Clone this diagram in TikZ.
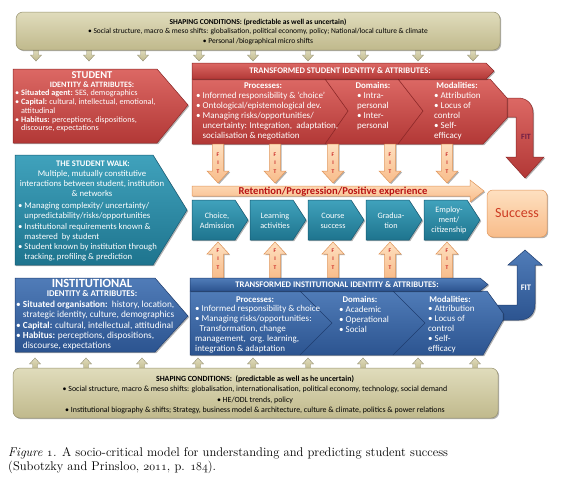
\documentclass[tikz,border=0pt]{standalone}
\usepackage{fontspec}
\newfontfamily\dfont{Carlito}
\usetikzlibrary{shadows}
\newcommand\fsz[2]{\fontsize{#1}{#2}\selectfont}
\newcommand\osn[1]{{\usefont{OML}{cmm}{m}{it}#1}}
\definecolor{redT}{RGB}{220,104,100}
\definecolor{redD}{RGB}{178,56,54}
\definecolor{redE}{RGB}{140,40,40}
\definecolor{tealT}{RGB}{64,162,188}
\definecolor{tealD}{RGB}{30,116,142}
\definecolor{tealE}{RGB}{22,90,115}
\definecolor{blueT}{RGB}{80,124,184}
\definecolor{blueD}{RGB}{44,84,144}
\definecolor{blueE}{RGB}{32,62,112}
\definecolor{tanT}{RGB}{224,220,188}
\definecolor{tanD}{RGB}{192,185,140}
\definecolor{tanE}{RGB}{150,145,110}
\definecolor{peachT}{RGB}{254,224,192}
\definecolor{peachD}{RGB}{248,188,138}
\definecolor{peachE}{RGB}{225,150,90}
\definecolor{fitred}{RGB}{200,30,30}
\definecolor{retred}{RGB}{185,20,20}
\definecolor{succred}{RGB}{205,60,35}
\definecolor{fitpurple}{RGB}{110,30,70}
\begin{document}
\begin{tikzpicture}[x=1pt,y=-1pt,
  shad/.style={drop shadow={shadow xshift=1.2pt,shadow yshift=-1.2pt,opacity=0.3,fill=black}},
  redbox/.style={shad,draw=redE,line width=0.5pt,top color=redT,bottom color=redD},
  tealbox/.style={shad,draw=tealE,line width=0.5pt,top color=tealT,bottom color=tealD},
  bluebox/.style={shad,draw=blueE,line width=0.5pt,top color=blueT,bottom color=blueD},
  tanbox/.style={shad,draw=tanE,line width=0.5pt,top color=tanT,bottom color=tanD},
  peachbox/.style={shad,draw=peachE,line width=0.5pt,top color=peachT,bottom color=peachD},
  tanarrow/.style={draw=tanE!80!gray,line width=0.4pt,top color=tanT,bottom color=tanD},
  divider/.style={line width=0.6pt},
  txt/.style={inner sep=0pt,text=black},
  wtxt/.style={inner sep=0pt,text=white},
  fitl/.style={inner sep=0pt,text=fitred,font=\dfont\bfseries\fsz{5.5}{5.5}},
  tandown/.pic={\path[tanarrow] (-2.5,0) -- (2.5,0) -- (2.5,5) -- (5.5,5) -- (0,11) -- (-5.5,5) -- (-2.5,5) -- cycle;},
  tanup/.pic={\path[tanarrow] (-2.5,0) -- (2.5,0) -- (2.5,-6) -- (5.5,-6) -- (0,-12) -- (-5.5,-6) -- (-2.5,-6) -- cycle;},
  fitdown/.pic={\path[peachbox] (-5.5,0) -- (5.5,0) -- (5.5,27) -- (11,27) -- (0,39) -- (-11,27) -- (-5.5,27) -- cycle;
     \node[fitl] (f) at (0,11) {F}; \node[fitl] (i) at (0,19) {I}; \node[fitl] (t) at (0,27.5) {T};},
  fitup/.pic={\path[peachbox] (-5.5,36) -- (5.5,36) -- (5.5,12) -- (11,12) -- (0,0) -- (-11,12) -- (-5.5,12) -- cycle;
     \node[fitl] (f) at (0,8.5) {F}; \node[fitl] (i) at (0,17) {I}; \node[fitl] (t) at (0,26) {T};}
]
\useasboundingbox (0,0) rectangle (562,482);
\fill[white] (0,0) rectangle (562,482);

% ---------- top shaping conditions ----------
\foreach \k/\x in {1/36,2/89,3/143,4/199,5/253,6/308,7/363,8/418,9/473}{
  \pic (td\k) at (\x,50) {tandown};
}
\path[tanbox,rounded corners=7pt] (16,12) rectangle (500,50);
\node[txt,align=center,font=\dfont\fsz{7.5}{9.5}] (topT) at (258,31.5)
 {\textbf{SHAPING CONDITIONS: (predictable as well as uncertain)}\\
  • Social structure, macro \& meso shifts: globalisation, political economy, policy; National/local culture \& climate\\
  • Personal /biographical micro shifts};

% ---------- student ----------
\path[redbox] (13,69) -- (157,69) -- (188,105) -- (157,143) -- (13,143) -- cycle;
\node[wtxt,font=\dfont\bfseries\fsz{10.5}{10.5}] (stH) at (92,75.5) {STUDENT};
\node[wtxt,font=\dfont\bfseries\fsz{8.2}{8.2}] (stH2) at (92,84.5) {IDENTITY \& ATTRIBUTES:};
\node[wtxt,align=left,anchor=west,font=\dfont\fsz{8.2}{8.8}] (stB) at (15,111)
 {• \textbf{Situated agent:} SES, demographics\\
  • \textbf{Capital:} cultural, intellectual, emotional,\\
  \phantom{• }attitudinal\\
  • \textbf{Habitus:} perceptions, dispositions,\\
  \phantom{• }discourse, expectations};

% ---------- transformed student ----------
\path[redbox] (488,98) -- (518,98) .. controls (527,98) and (533,104) .. (533,113) -- (533,157) -- (544,157) -- (525,178) -- (506,157) -- (516,157) -- (516,117) -- (488,117) -- cycle;
\node[inner sep=0pt,text=fitpurple,font=\dfont\bfseries\fsz{8}{8}] (fitS) at (526,137) {FIT};
\path[redbox] (192,79) -- (490,79) -- (507,98) -- (507,118) -- (483,144) -- (192,144) -- cycle;
\draw[divider,redE] (325,79) -- (348,111) -- (325,144);
\draw[divider,redE] (398,79) -- (423,111) -- (398,144);
\path[redbox] (192,63) -- (486,63) -- (494,71) -- (486,79) -- (192,79) -- cycle;
\node[wtxt,font=\dfont\bfseries\fsz{8.6}{8.6}] (tsH) at (340,71) {TRANSFORMED STUDENT IDENTITY \& ATTRIBUTES:};
\node[wtxt,font=\dfont\bfseries\fsz{8.8}{8.8}] (tsP) at (263,85.5) {Processes:};
\node[wtxt,align=left,anchor=west,font=\dfont\fsz{9}{10}] (tsPB) at (196,116.5)
 {• Informed responsibility \& ‘choice’\\
  • Ontological/epistemological dev.\\
  • Managing risks/opportunities/\\
  \phantom{• }uncertainty: Integration,\ \ adaptation,\\
  \phantom{• }socialisation \& negotiation};
\node[wtxt,font=\dfont\bfseries\fsz{8.8}{8.8}] (tsD) at (373,85.5) {Domains:};
\node[wtxt,align=left,anchor=west,font=\dfont\fsz{9}{10}] (tsDB) at (357,111.5)
 {• Intra-\\personal\\• Inter-\\personal};
\node[wtxt,font=\dfont\bfseries\fsz{8.8}{8.8}] (tsM) at (457,85.5) {Modalities:};
\node[wtxt,align=left,anchor=west,font=\dfont\fsz{9}{10}] (tsMB) at (434,116.5)
 {• Attribution\\• Locus of\\control\\• Self-\\efficacy};

% ---------- FIT arrows ----------
\foreach \k/\x in {1/218,2/275,3/333,4/390,5/447}{
  \pic (fd\k) at (\x,144) {fitdown};
  \pic (fu\k) at (\x,242) {fitup};
}

% ---------- student walk ----------
\path[tealbox] (15,155) -- (153,155) -- (187,210) -- (153,265) -- (15,265) -- cycle;
\node[wtxt,font=\dfont\bfseries\fsz{8.5}{8.5}] (wkH) at (93,163.5) {THE STUDENT WALK:};
\node[wtxt,align=center,font=\dfont\fsz{8.7}{9.7}] (wkP) at (92,183.5)
 {Multiple, mutually constitutive\\interactions between student, institution\\\& networks};
\node[wtxt,align=left,anchor=west,font=\dfont\fsz{8.7}{10.2}] (wkB) at (18,232)
 {• Managing complexity/ uncertainty/\\
  \phantom{• }unpredictability/risks/opportunities\\
  • Institutional requirements known \&\\
  \phantom{• }mastered\ \ by student\\
  • Student known by institution through\\
  \phantom{• }tracking, profiling \& prediction};

% ---------- retention bar and steps ----------
\path[peachbox] (192,186) -- (470,186) -- (470,180) -- (484,191) -- (470,202) -- (470,196) -- (192,196) -- cycle;
\node[inner sep=0pt,text=retred,font=\dfont\bfseries\fsz{10.6}{10.6}] (ret) at (333,191.5) {Retention/Progression/Positive experience};
\foreach \k/\x/\t in {1/192/{Choice,\\Admission},2/250/{Learning\\activities},3/308/{Course\\success},4/366/{Gradua-\\tion},5/424/{Employ-\\ment/\\citizenship}}{
  \path[tealbox] (\x,200) -- ({\x+43},200) -- ({\x+56},220) -- ({\x+43},240) -- (\x,240) -- cycle;
  \node[wtxt,align=center,font=\dfont\fsz{8.2}{10}] (c\k) at ({\x+25},220.5) {\t};
}
\node[peachbox,rounded corners=6pt,minimum width=60pt,minimum height=47pt,text=succred,font=\dfont\fsz{14}{14}] (succ) at (517,213.5) {Success};

% ---------- institutional ----------
\path[bluebox] (15,278) -- (155,278) -- (188,316) -- (155,352) -- (15,352) -- cycle;
\node[wtxt,font=\dfont\bfseries\fsz{12.5}{12.5}] (inH) at (92,283.5) {INSTITUTIONAL};
\node[wtxt,font=\dfont\bfseries\fsz{8.8}{8.8}] (inH2) at (92,293.5) {IDENTITY \& ATTRIBUTES:};
\node[wtxt,align=left,anchor=west,font=\dfont\fsz{9.3}{10.4}] (inB) at (16,325.5)
 {• \textbf{Situated organisation:}\ \ history, location,\\
  \phantom{• }strategic identity, culture, demographics\\
  • \textbf{Capital:} cultural, intellectual, attitudinal\\
  • \textbf{Habitus:} perceptions, dispositions,\\
  \phantom{• }discourse, expectations};

% ---------- transformed institutional ----------
\path[bluebox] (490,305) -- (517,305) -- (517,265) -- (508,265) -- (525,250) -- (542,265) -- (535,265) -- (535,304) .. controls (535,314) and (529,320) .. (519,320) -- (490,320) -- cycle;
\node[wtxt,font=\dfont\bfseries\fsz{8.5}{8.5}] (fitI) at (526,288) {FIT};
\path[bluebox] (190,291) -- (487,291) -- (503,313) -- (503,320) -- (483,355) -- (190,355) -- cycle;
\draw[divider,blueE] (300,291) -- (332,323) -- (300,355);
\draw[divider,blueE] (393,291) -- (425,323) -- (393,355);
\path[bluebox] (190,278) -- (480,278) -- (488,284.5) -- (480,291) -- (190,291) -- cycle;
\node[wtxt,font=\dfont\bfseries\fsz{8.6}{8.6}] (tiH) at (337,284.5) {TRANSFORMED INSTITUTIONAL IDENTITY \& ATTRIBUTES:};
\node[wtxt,font=\dfont\bfseries\fsz{8.8}{8.8}] (tiP) at (255,299.5) {Processes:};
\node[wtxt,align=left,anchor=west,font=\dfont\fsz{9}{10}] (tiPB) at (195,329.5)
 {• Informed responsibility \& choice\\
  • Managing risks/opportunities:\\
  \hspace{4.5pt}Transformation, change\\
  management,\ \ org. learning,\\
  integration \& adaptation};
\node[wtxt,font=\dfont\bfseries\fsz{8.8}{8.8}] (tiD) at (360,299.5) {Domains:};
\node[wtxt,align=left,anchor=west,font=\dfont\fsz{9}{10}] (tiDB) at (339,319.5)
 {• Academic\\• Operational\\• Social};
\node[wtxt,font=\dfont\bfseries\fsz{8.8}{8.8}] (tiM) at (450,299.5) {Modalities:};
\node[wtxt,align=left,anchor=west,font=\dfont\fsz{9}{10}] (tiMB) at (428,329.5)
 {• Attribution\\• Locus of\\control\\• Self-\\efficacy};

% ---------- bottom shaping conditions ----------
\foreach \k/\x in {1/35,2/86,3/142,4/198,5/253,6/308,7/363,8/418,9/475}{
  \pic (tu\k) at (\x,370) {tanup};
}
\path[tanbox,rounded corners=7pt] (13,368) rectangle (498,418);
\node[txt,align=center,font=\dfont\fsz{7.9}{10.5}] (botT) at (255,394.5)
 {\textbf{SHAPING CONDITIONS:\ \ (predictable as well as he uncertain)}\\
  • Social structure, macro \& meso shifts: globalisation, internationalisation, political economy, technology, social demand\\
  • HE/ODL trends, policy\\
  • Institutional biography \& shifts; Strategy, business model \& architecture, culture \& climate, politics \& power relations};

% ---------- caption ----------
\node[txt,anchor=base west,font=\fsz{12.6}{14}] (cap1) at (8,456.5)
 {\textit{Figure \osn{1}.} A socio-critical model for understanding and predicting student success};
\node[txt,anchor=base west,font=\fsz{12.6}{14}] (cap2) at (8,470.5)
 {(Subotzky and Prinsloo, \osn{2011}, p. \osn{184}).};
\end{tikzpicture}
\end{document}
